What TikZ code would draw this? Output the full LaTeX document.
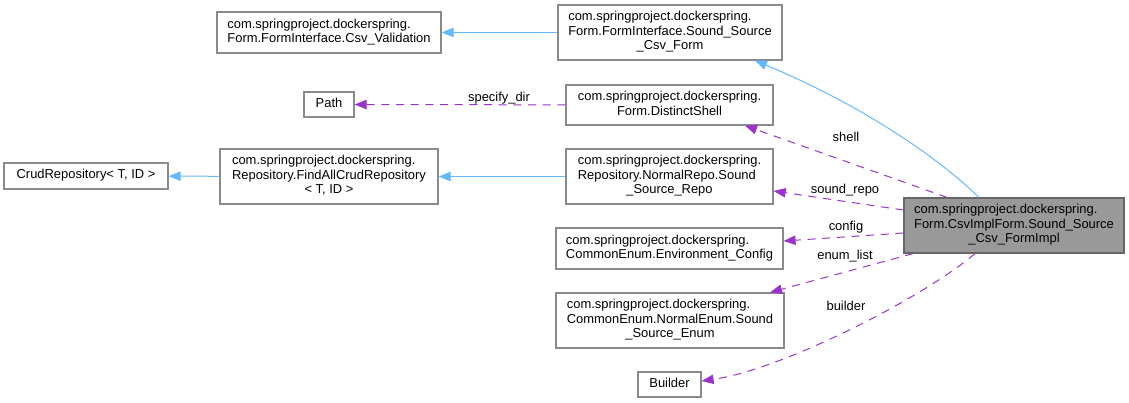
\documentclass[tikz,border=0pt]{standalone}
\usepackage{fontspec}
\setmainfont{Liberation Sans}
\usetikzlibrary{arrows.meta,calc}
\definecolor{edgeblue}{HTML}{63B8FF}
\definecolor{edgepurple}{HTML}{9A32CD}
\definecolor{boxborder}{HTML}{8A8A8A}
\definecolor{mainfill}{HTML}{999999}
\definecolor{mainborder}{HTML}{666666}
\newcommand\lineone[1]{\begin{tabular}{@{}c@{}}#1\end{tabular}}
\newcommand\linetwo[2]{\begin{tabular}{@{}l@{}}#1\\\multicolumn{1}{@{}c@{}}{#2}\end{tabular}}
\newcommand\linethree[3]{\begin{tabular}{@{}l@{}}#1\\#2\\\multicolumn{1}{@{}c@{}}{#3}\end{tabular}}
\tikzset{
  classbox/.style={draw=boxborder, line width=0.9pt, fill=white, inner sep=0pt,
    font=\fontsize{9.7}{10.9}\selectfont, text=black},
  mainbox/.style={classbox, draw=mainborder, fill=mainfill},
  inherit/.style={draw=edgeblue, line width=0.75pt, -{Triangle[length=9pt,width=7pt]}},
  uses/.style={draw=edgepurple, line width=0.75pt, dash pattern=on 6pt off 5pt,
    -{Triangle[length=9pt,width=7pt]}},
  edgelabel/.style={font=\fontsize{9.7}{12}\selectfont, inner sep=0pt, text=black}
}
\begin{document}
\begin{tikzpicture}[x=0.75pt,y=-0.75pt]
\useasboundingbox (0,0) rectangle (1129,403);
% nodes
\node[classbox, minimum width=168pt, minimum height=30.75pt] (csvval) at (329,32.5)
  {\linetwo{com.springproject.dockerspring.}{Form.FormInterface.Csv\_Validation}};
\node[classbox, minimum width=168pt, minimum height=41.25pt] (csvform) at (670,32.5)
  {\linethree{com.springproject.dockerspring.}{Form.FormInterface.Sound\_Source}{\_Csv\_Form}};
\node[classbox, minimum width=37.5pt, minimum height=18.75pt] (path) at (329,104.5)
  {\lineone{Path}};
\node[classbox, minimum width=155.25pt, minimum height=30pt] (shell) at (669.5,105)
  {\linetwo{com.springproject.dockerspring.}{Form.DistinctShell}};
\node[classbox, minimum width=123pt, minimum height=19.5pt] (crud) at (86,176)
  {\lineone{CrudRepository< T, ID >}};
\node[classbox, minimum width=163.5pt, minimum height=41.25pt] (findall) at (329,176.5)
  {\linethree{com.springproject.dockerspring.}{Repository.FindAllCrudRepository}{< T, ID >}};
\node[classbox, minimum width=155.25pt, minimum height=41.25pt] (repo) at (669.5,176.5)
  {\linethree{com.springproject.dockerspring.}{Repository.NormalRepo.Sound}{\_Source\_Repo}};
\node[mainbox, minimum width=165pt, minimum height=41.25pt] (main) at (1014,225.5)
  {\linethree{com.springproject.dockerspring.}{Form.CsvImplForm.Sound\_Source}{\_Csv\_FormImpl}};
\node[classbox, minimum width=170.25pt, minimum height=30.75pt] (env) at (669.5,248.5)
  {\linetwo{com.springproject.dockerspring.}{CommonEnum.Environment\_Config}};
\node[classbox, minimum width=171pt, minimum height=41.25pt] (enum) at (670,320.5)
  {\linethree{com.springproject.dockerspring.}{CommonEnum.NormalEnum.Sound}{\_Source\_Enum}};
\node[classbox, minimum width=47.25pt, minimum height=18.75pt] (builder) at (669.5,384.5)
  {\lineone{Builder}};
% inheritance edges
\draw[inherit] (csvform) -- (csvval);
\draw[inherit] (findall) -- (crud);
\draw[inherit] (repo) -- (findall);
\draw[inherit] ($(main.north)+(-35,0)$) .. controls (930,150) and (850,100) .. ($(csvform.south)+(85,0)$);
% usage edges
\draw[uses] (shell) -- (path);
\draw[uses] ($(main.north)+(-67,0)$) -- ($(shell.south)+(75.5,0)$);
\draw[uses] ($(main.west)+(0,-15.5)$) -- ($(repo.east)+(0,14.5)$);
\draw[uses] ($(main.west)+(0,7.5)$) -- ($(env.east)+(0,-7.5)$);
\draw[uses] ($(main.south)+(-101,0)$) -- ($(enum.north)+(100,0)$);
\draw[uses] ($(main.south)+(-39,0)$) .. controls (920,300) and (780,370) .. ($(builder.east)+(0,-3.5)$);
% labels
\node[edgelabel] (lspec) at (499,98) {specify\_dir};
\node[edgelabel] (lshell) at (846,137) {shell};
\node[edgelabel] (lrepo) at (845,190) {sound\_repo};
\node[edgelabel] (lconfig) at (846,227) {config};
\node[edgelabel] (lenum) at (845,256) {enum\_list};
\node[edgelabel] (lbuilder) at (846,306) {builder};
\end{tikzpicture}
\end{document}
